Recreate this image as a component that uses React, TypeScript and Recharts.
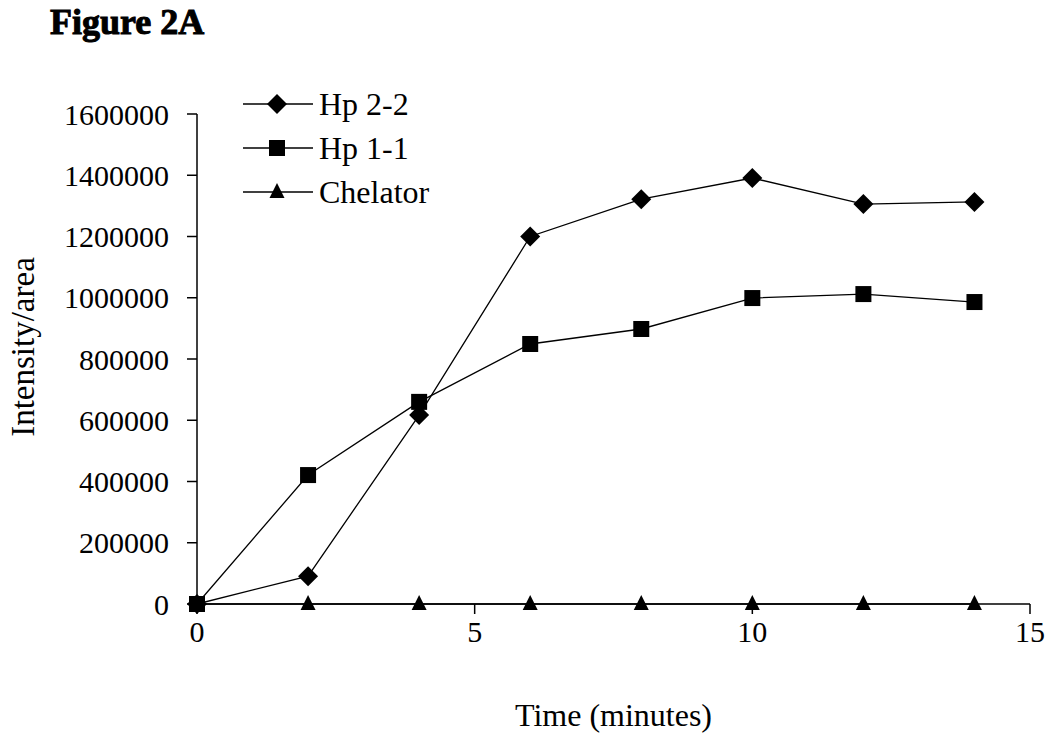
import React from 'react';
import { LineChart, Line, XAxis, YAxis, Customized } from 'recharts';

const times = [0, 2, 4, 6, 8, 10, 12, 14];
const hp22 = [0, 91000, 617000, 1200000, 1322000, 1391000, 1306000, 1313000];
const hp11 = [0, 421000, 660000, 849000, 898000, 999000, 1012000, 986000];
const chelator = [0, 0, 0, 0, 0, 0, 0, 0];
const xTicks = [0, 5, 10, 15];
const yTicks = [0, 200000, 400000, 600000, 800000, 1000000, 1200000, 1400000, 1600000];
const seriesNames = ['Hp 2-2', 'Hp 1-1', 'Chelator'];

const data = times.map((t, i) => ({ t, hp22: hp22[i], hp11: hp11[i], chelator: chelator[i] }));

const FONT = '"Liberation Serif", "Times New Roman", serif';

const Diamond = (props: any) => {
  const { cx, cy } = props;
  if (cx == null || cy == null) return null;
  const r = 10;
  return <path d={`M${cx},${cy - r} L${cx + r},${cy} L${cx},${cy + r} L${cx - r},${cy} Z`} fill="#000" />;
};
const Square = (props: any) => {
  const { cx, cy } = props;
  if (cx == null || cy == null) return null;
  const r = 8;
  return <rect x={cx - r} y={cy - r} width={2 * r} height={2 * r} fill="#000" />;
};
const Triangle = (props: any) => {
  const { cx, cy } = props;
  if (cx == null || cy == null) return null;
  return <path d={`M${cx},${cy - 9} L${cx + 7.5},${cy + 6} L${cx - 7.5},${cy + 6} Z`} fill="#000" />;
};

const LegendSvg = () => {
  const x0 = 243, y0 = 104, step = 44;
  return (
    <g>
      {seriesNames.map((n, i) => {
        const cy = y0 + i * step;
        const cx = x0 + 34;
        return (
          <g key={n}>
            <line x1={x0} y1={cy} x2={x0 + 70} y2={cy} stroke="#000" strokeWidth={1.3} />
            {i === 0 ? <Diamond cx={cx} cy={cy} /> : i === 1 ? <Square cx={cx} cy={cy} /> : <Triangle cx={cx} cy={cy} />}
            <text x={x0 + 76} y={cy} dominantBaseline="central" fontFamily={FONT} fontSize={32} fill="#000">{n}</text>
          </g>
        );
      })}
    </g>
  );
};

const YLabel = (props: any) => {
  const vb = props.viewBox || {};
  const x = vb.x + 6;
  const y = vb.y + vb.height / 2 - 12;
  return (
    <text x={x} y={y} transform={`rotate(-90, ${x}, ${y})`} textAnchor="middle" dominantBaseline="central"
      fontFamily={FONT} fontSize={33} fill="#000">Intensity/area</text>
  );
};

const XLabel = (props: any) => {
  const vb = props.viewBox || {};
  const x = vb.x + vb.width / 2;
  const y = 726;
  return (
    <text x={x} y={y} textAnchor="middle" fontFamily={FONT} fontSize={32} fill="#000">Time (minutes)</text>
  );
};

const Title = () => (
  <text x={50} y={34} fontFamily={FONT} fontWeight={900} fontSize={36} fill="#000" stroke="#000" strokeWidth={1}>Figure 2A</text>
);

export default function App() {
  return (
    <div style={{ position: 'absolute', left: 0, top: 0, background: '#fff' }}>
      <LineChart width={1050} height={737} data={data} margin={{ top: 114, right: 20, bottom: 73, left: 17 }}>
        <XAxis dataKey="t" type="number" domain={[0, 15]} ticks={xTicks} stroke="#000" strokeWidth={1.5}
          tickSize={10} tickMargin={7} tickLine={{ stroke: '#000', strokeWidth: 1.5 }} height={60}
          tick={{ fontFamily: FONT, fontSize: 30, fill: '#000' }} label={<XLabel />} />
        <YAxis type="number" domain={[0, 1600000]} ticks={yTicks} stroke="#000" strokeWidth={1.5} width={180}
          tickSize={10} tickMargin={18} tickLine={{ stroke: '#000', strokeWidth: 1.5 }}
          tick={{ fontFamily: FONT, fontSize: 30, fill: '#000' }} label={<YLabel />} />
        <Line dataKey="chelator" name="Chelator" stroke="#000" strokeWidth={1.3} dot={<Triangle />} isAnimationActive={false} />
        <Line dataKey="hp11" name="Hp 1-1" stroke="#000" strokeWidth={1.3} dot={<Square />} isAnimationActive={false} />
        <Line dataKey="hp22" name="Hp 2-2" stroke="#000" strokeWidth={1.3} dot={<Diamond />} isAnimationActive={false} />
        <Customized component={<LegendSvg />} />
        <Customized component={<Title />} />
      </LineChart>
    </div>
  );
}
